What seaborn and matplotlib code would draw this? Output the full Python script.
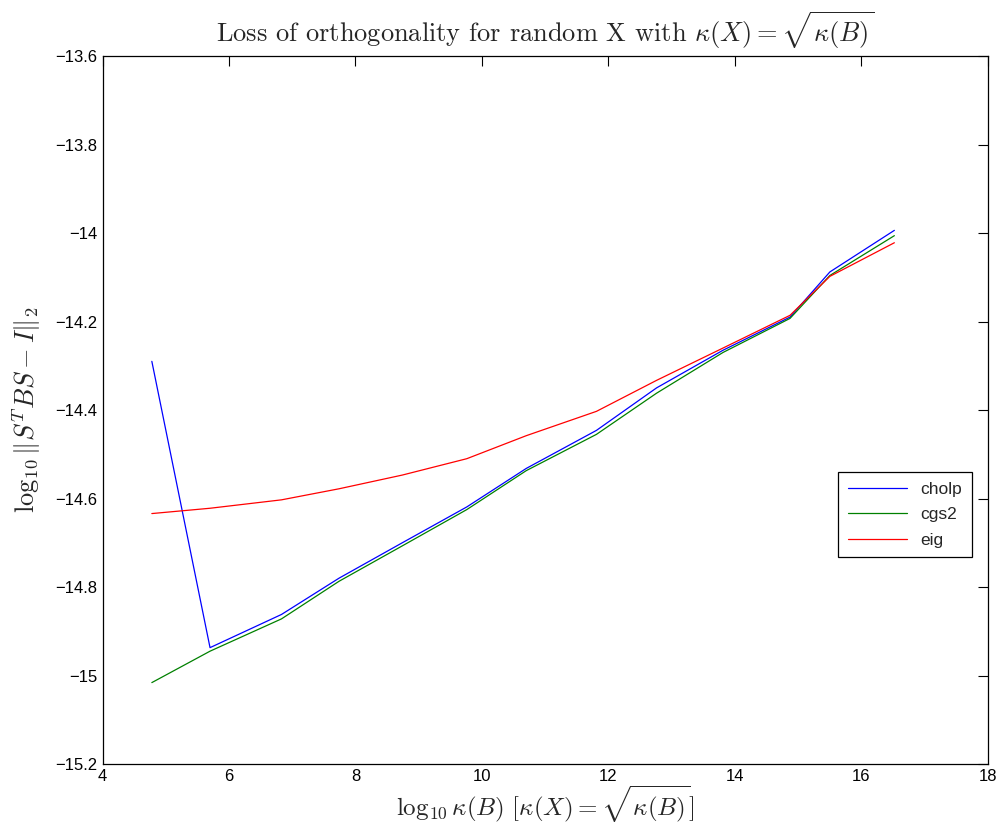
import numpy as np
import pandas as pd
import seaborn as sns
import matplotlib.pyplot as plt
from matplotlib.ticker import FuncFormatter

# log10 kappa(B) sample points
kappa_b = [4.78, 5.70, 6.83, 7.74, 8.74, 9.76, 10.70, 11.81, 12.76, 13.81, 14.87, 15.50, 16.52]

# log10 ||S^T B S - I||_2 per method
cholp = [-14.29, -14.937, -14.862, -14.78, -14.70, -14.619, -14.532, -14.446,
         -14.35, -14.265, -14.19, -14.088, -13.994]
cgs2 = [-15.016, -14.945, -14.872, -14.787, -14.707, -14.625, -14.537, -14.455,
        -14.362, -14.27, -14.193, -14.096, -14.006]
eig = [-14.634, -14.622, -14.603, -14.578, -14.547, -14.51, -14.458, -14.403,
       -14.333, -14.26, -14.186, -14.098, -14.022]

methods = ['cholp', 'cgs2', 'eig']
colors = {'cholp': '#0000ff', 'cgs2': '#008000', 'eig': '#ff0000'}

df = pd.concat([
    pd.DataFrame({'x': kappa_b, 'y': cholp, 'method': 'cholp'}),
    pd.DataFrame({'x': kappa_b, 'y': cgs2, 'method': 'cgs2'}),
    pd.DataFrame({'x': kappa_b, 'y': eig, 'method': 'eig'}),
])

sns.set_style('white')
plt.rcParams['font.family'] = ['Liberation Sans', 'DejaVu Sans']
plt.rcParams['mathtext.fontset'] = 'cm'

fig = plt.figure(figsize=(10.02, 8.31), dpi=100)
ax = fig.add_axes([0.1023, 0.0806, 0.8837, 0.852])

sns.lineplot(data=df, x='x', y='y', hue='method', hue_order=methods,
             palette=colors, linewidth=0.9, ax=ax, sort=False)

ax.set_xlim(4, 18)
ax.set_ylim(-15.2, -13.6)
ax.set_xticks(np.arange(4, 19, 2))
ax.set_yticks(np.arange(-15.2, -13.59, 0.2))
fmt = FuncFormatter(lambda v, p: '{:g}'.format(round(v, 1)).replace('-', '\u2212'))
ax.yaxis.set_major_formatter(fmt)
ax.xaxis.set_major_formatter(FuncFormatter(lambda v, p: '{:g}'.format(v)))
ax.tick_params(direction='in', length=7, width=0.8, top=True, right=True,
               labelsize=12, colors='black')
for s in ax.spines.values():
    s.set_color('black')
    s.set_linewidth(0.9)

ax.set_title(r'Loss of orthogonality for random X with $\kappa(X) = \sqrt{\kappa(B)}$',
             fontsize=19, family='cmr10', pad=10)
ax.set_xlabel(r'$\log_{10}\kappa(B)\ [\kappa(X) = \sqrt{\kappa(B)}]$', fontsize=18, labelpad=0)
ax.set_ylabel(r'$\log_{10}\|S^TBS - I\|_2$', fontsize=19, labelpad=9)

leg = ax.legend(loc='center right', bbox_to_anchor=(0.982, 0.352), fontsize=12.5,
                fancybox=False, frameon=True, edgecolor='black', framealpha=1,
                handlelength=3.4, borderpad=0.55, labelspacing=0.6, borderaxespad=0)
leg.get_frame().set_linewidth(0.9)
leg.set_title(None)

fig.savefig('out.png', dpi=100)
